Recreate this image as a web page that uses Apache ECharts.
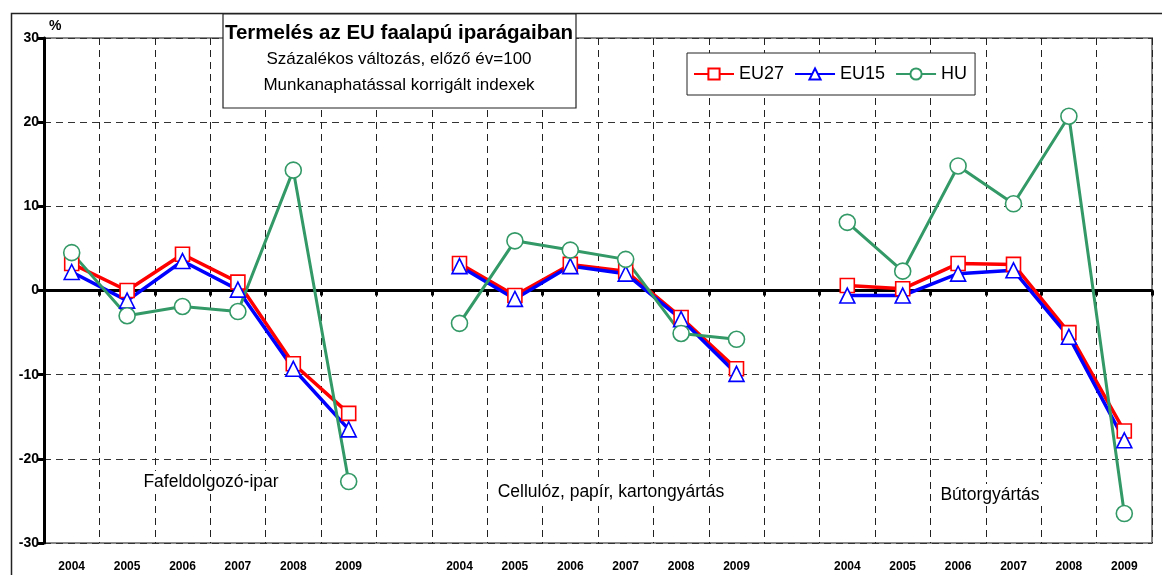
<!DOCTYPE html>
<html>
<head>
<meta charset="utf-8">
<style>
  html, body { margin: 0; padding: 0; background: #fff; }
  #main { width: 1162px; height: 575px; }
</style>
<script src="https://cdn.jsdelivr.net/npm/echarts@6/dist/echarts.min.js"></script>
</head>
<body>
<div id="main"></div>
<script>
  // 3 ágazat x 6 év, a csoportok között egy üres kategória
  var years = ['2004', '2005', '2006', '2007', '2008', '2009'];
  var sectors = ['Fafeldolgozó-ipar', 'Cellulóz, papír, kartongyártás', 'Bútorgyártás'];

  var eu27 = [
    [3.2, 0.0, 4.3, 1.0, -8.7, -14.6],
    [3.2, -0.6, 3.1, 2.3, -3.2, -9.3],
    [0.6, 0.2, 3.2, 3.1, -5.0, -16.7]
  ];
  var eu15 = [
    [2.2, -1.2, 3.5, 0.1, -9.3, -16.5],
    [2.9, -1.0, 2.9, 2.0, -3.4, -9.9],
    [-0.6, -0.6, 2.0, 2.4, -5.5, -17.8]
  ];
  var hu = [
    [4.5, -3.0, -1.9, -2.5, 14.3, -22.7],
    [-3.9, 5.9, 4.8, 3.7, -5.1, -5.8],
    [8.1, 2.3, 14.8, 10.3, 20.7, -26.5]
  ];
  var yTicks = [-30, -20, -10, 0, 10, 20, 30];

  var FONT = '"Liberation Sans", Arial, sans-serif';

  //  csoportok összefűzése, üres kategória (null) a csoportok között
  function flatten(groups) {
    var out = [];
    groups.forEach(function (g, i) {
      if (i > 0) out.push(null);
      out = out.concat(g);
    });
    return out;
  }
  var categories = flatten([years, years, years]).map(function (c) { return c === null ? '' : c; });

  var chart = echarts.init(document.getElementById('main'));

  function lineSeries(name, data, color, symbol, size, width) {
    return {
      name: name,
      type: 'line',
      xAxisIndex: 0,
      data: flatten(data),
      connectNulls: false,
      symbol: symbol,
      symbolSize: size,
      showAllSymbol: true,
      lineStyle: { color: color, width: width },
      itemStyle: { color: '#fff', borderColor: color, borderWidth: 1.6 },
      emphasis: { disabled: true },
      z: 3
    };
  }

  function label(text, x, y, font, extra) {
    var style = { text: text, align: 'center', font: font + ' ' + FONT, fill: '#000' };
    for (var k in extra) style[k] = extra[k];
    return { type: 'text', x: x, y: y, z: 30, silent: true, style: style };
  }

  var option = {
    animation: false,
    backgroundColor: '#fff',
    textStyle: { fontFamily: FONT },
    grid: {
      left: 44, right: 10, top: 38, bottom: 32,
      show: true, borderColor: '#888', borderWidth: 2, backgroundColor: '#fff'
    },
    legend: {
      left: 687, top: 53,
      padding: [12, 8, 12, 6],
      backgroundColor: '#fff',
      borderColor: '#222',
      borderWidth: 1,
      itemWidth: 40,
      itemHeight: 14,
      itemGap: 10,
      textStyle: { fontSize: 18, color: '#000', fontFamily: FONT },
      data: ['EU27', 'EU15', 'HU']
    },
    xAxis: [
      {
        type: 'category',
        data: categories,
        position: 'bottom',
        boundaryGap: true,
        axisLine: { onZero: false, show: false },
        axisTick: { show: false },
        axisLabel: {
          interval: 0, margin: 18,
          fontWeight: 'bold', fontSize: 12, color: '#000', fontFamily: FONT
        },
        splitLine: {
          show: true, interval: 0,
          lineStyle: { color: '#222', width: 1, type: [7, 5] }
        }
      },
      {
        type: 'category',
        data: categories,
        position: 'top',
        boundaryGap: true,
        axisLine: { onZero: true, lineStyle: { color: '#000', width: 3 } },
        axisTick: { show: true, inside: true, length: 5, interval: 0, lineStyle: { color: '#000', width: 3 } },
        axisLabel: { show: false },
        splitLine: { show: false }
      }
    ],
    yAxis: {
      type: 'value',
      min: yTicks[0],
      max: yTicks[yTicks.length - 1],
      interval: 10,
      axisLine: { show: true, lineStyle: { color: '#000', width: 3 } },
      axisTick: { show: true, length: 7, lineStyle: { color: '#000', width: 3 } },
      axisLabel: { fontWeight: 'bold', fontSize: 14, color: '#000', margin: 5, fontFamily: FONT },
      splitLine: { show: true, lineStyle: { color: '#333', width: 1, type: [7, 5] } }
    },
    series: [
      lineSeries('EU27', eu27, '#ff0000', 'rect', 14, 3.5),
      lineSeries('EU15', eu15, '#0000ff', 'triangle', 15, 3.5),
      lineSeries('HU', hu, '#339966', 'circle', 16, 3)
    ],
    graphic: [
      //  külső keret
      {
        type: 'rect', left: 9, top: 11, silent: true, z: 0,
        shape: { width: 1170, height: 600 },
        style: { fill: null, stroke: '#222', lineWidth: 1.5 }
      },
      //  cím doboz
      {
        type: 'rect', x: 223, y: 14, z: 25, silent: true,
        shape: { width: 353, height: 94 },
        style: { fill: '#fff', stroke: '#222', lineWidth: 1.2 }
      },
      label('Termelés az EU faalapú iparágaiban', 399, 23, 'bold 20.5px'),
      label('Százalékos változás, előző év=100', 399, 51, '17px'),
      label('Munkanaphatással korrigált indexek', 399, 77, '17px'),
      //  mértékegység
      {
        type: 'text', x: 49, y: 19, z: 30, silent: true,
        style: { text: '%', font: 'bold 14px ' + FONT, fill: '#000' }
      },
      //  ágazatnevek
      label(sectors[0], 211, 471, '17.5px', { backgroundColor: '#fff', padding: [2, 3] }),
      label(sectors[1], 611, 481, '17.5px', { backgroundColor: '#fff', padding: [2, 3] }),
      label(sectors[2], 990, 484, '17.5px', { backgroundColor: '#fff', padding: [2, 3] })
    ]
  };

  chart.setOption(option);
</script>
</body>
</html>
